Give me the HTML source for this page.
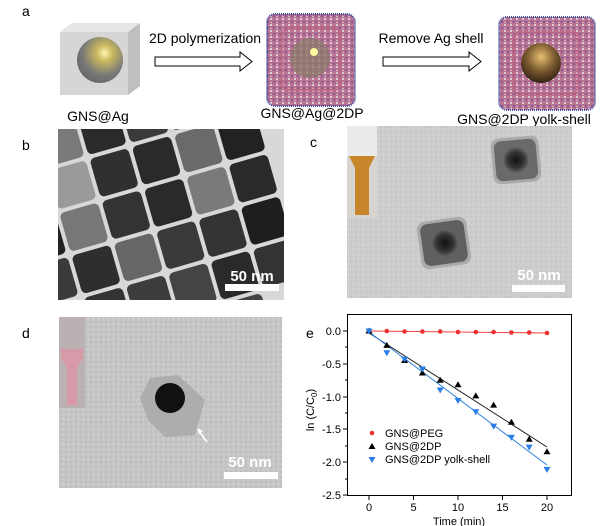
<!DOCTYPE html>
<html><head><meta charset="utf-8"><style>
html,body{margin:0;padding:0;background:#fff;}
svg{display:block;font-family:"Liberation Sans",Arial,sans-serif;}
</style></head><body>
<svg width="611" height="526" viewBox="0 0 611 526" xmlns="http://www.w3.org/2000/svg">
<defs>
<radialGradient id="gold" cx="0.6" cy="0.35" r="0.7"><stop offset="0" stop-color="#fff6b0"/><stop offset="0.25" stop-color="#c9b860"/><stop offset="0.7" stop-color="#777"/><stop offset="1" stop-color="#666"/></radialGradient>
<radialGradient id="gold2" cx="0.5" cy="0.35" r="0.7"><stop offset="0" stop-color="#e8c070"/><stop offset="0.5" stop-color="#7a5a30"/><stop offset="1" stop-color="#2a1a10"/></radialGradient>
<radialGradient id="core" cx="0.5" cy="0.5" r="0.5"><stop offset="0" stop-color="#111"/><stop offset="0.6" stop-color="#333"/><stop offset="1" stop-color="#666"/></radialGradient>
<pattern id="poly" width="6" height="6" patternUnits="userSpaceOnUse"><rect width="6" height="6" fill="#b87090"/><circle cx="1" cy="1" r="1" fill="#e8e8f0"/><circle cx="4" cy="4" r="0.9" fill="#5a4aa0"/><circle cx="4" cy="1" r="0.6" fill="#e090a0"/><circle cx="1" cy="4.5" r="0.6" fill="#f0f0f0"/></pattern>
<pattern id="noise" width="5" height="5" patternUnits="userSpaceOnUse"><rect width="5" height="5" fill="#c6c6c6"/><circle cx="1" cy="2" r="0.7" fill="#adadad"/><circle cx="3.5" cy="4" r="0.6" fill="#dadada"/></pattern>
<pattern id="noise2" width="5" height="5" patternUnits="userSpaceOnUse"><rect width="5" height="5" fill="#cdcdcd"/><circle cx="1" cy="2" r="0.6" fill="#b5b5b5"/><circle cx="3.5" cy="4" r="0.6" fill="#dddddd"/></pattern>
<clipPath id="cb"><rect x="58" y="129" width="226" height="171"/></clipPath>
</defs>

<!-- panel a -->
<text x="22" y="16" font-size="14">a</text>
<polygon points="60,32 72,23 140,23 140,86 128,95 60,95" fill="#d6d6d6"/>
<polygon points="128,32 140,23 140,86 128,95" fill="#bfbfbf"/>
<polygon points="60,32 72,23 140,23 128,32" fill="#e6e6e6"/>
<circle cx="100" cy="60" r="23" fill="url(#gold)"/>
<text x="98" y="121" font-size="14" text-anchor="middle">GNS@Ag</text>
<text x="205" y="43" font-size="14" text-anchor="middle">2D polymerization</text>
<polygon points="155,57 240,57 240,52 252,61.5 240,71 240,66 155,66" fill="#fff" stroke="#000" stroke-width="1"/>
<rect x="267" y="14" width="88" height="92" rx="8" fill="url(#poly)" stroke="#4050a0" stroke-width="2" stroke-dasharray="1 1"/>
<rect x="282" y="28" width="58" height="62" rx="6" fill="none" stroke="#c06080" stroke-width="3" opacity="0.6"/>
<circle cx="310" cy="58" r="20" fill="#8a7a6a" opacity="0.75"/>
<circle cx="314" cy="52" r="4" fill="#fff8a0"/>
<text x="312" y="118" font-size="14" text-anchor="middle">GNS@Ag@2DP</text>
<text x="431" y="43" font-size="14" text-anchor="middle">Remove Ag shell</text>
<polygon points="383,57 469,57 469,52 481,61.5 469,71 469,66 383,66" fill="#fff" stroke="#000" stroke-width="1"/>
<rect x="499" y="17" width="96" height="93" rx="8" fill="url(#poly)" stroke="#4050a0" stroke-width="2" stroke-dasharray="1 1"/>
<rect x="514" y="32" width="64" height="62" rx="6" fill="none" stroke="#c06080" stroke-width="3" opacity="0.6"/>
<circle cx="541" cy="63" r="20" fill="url(#gold2)"/>
<text x="524" y="124" font-size="14" text-anchor="middle">GNS@2DP yolk-shell</text>

<!-- panel b -->
<text x="22" y="150" font-size="14">b</text>
<rect x="58" y="129" width="226" height="171" fill="#d8d8d8"/>
<g clip-path="url(#cb)">
<g transform="rotate(-16 170 215)">
<rect x="20" y="95" width="40" height="40" rx="5" fill="#555"/>
<rect x="64" y="95" width="40" height="40" rx="5" fill="#7a7a7a"/>
<rect x="108" y="95" width="40" height="40" rx="5" fill="#2a2a2a"/>
<rect x="152" y="95" width="40" height="40" rx="5" fill="#3a3a3a"/>
<rect x="196" y="95" width="40" height="40" rx="5" fill="#2e2e2e"/>
<rect x="240" y="95" width="40" height="40" rx="5" fill="#444"/>
<rect x="20" y="139" width="40" height="40" rx="5" fill="#8a8a8a"/>
<rect x="64" y="139" width="40" height="40" rx="5" fill="#9a9a9a"/>
<rect x="108" y="139" width="40" height="40" rx="5" fill="#303030"/>
<rect x="152" y="139" width="40" height="40" rx="5" fill="#2a2a2a"/>
<rect x="196" y="139" width="40" height="40" rx="5" fill="#6a6a6a"/>
<rect x="240" y="139" width="40" height="40" rx="5" fill="#222"/>
<rect x="20" y="183" width="40" height="40" rx="5" fill="#222"/>
<rect x="64" y="183" width="40" height="40" rx="5" fill="#777"/>
<rect x="108" y="183" width="40" height="40" rx="5" fill="#333"/>
<rect x="152" y="183" width="40" height="40" rx="5" fill="#2a2a2a"/>
<rect x="196" y="183" width="40" height="40" rx="5" fill="#7a7a7a"/>
<rect x="240" y="183" width="40" height="40" rx="5" fill="#2a2a2a"/>
<rect x="20" y="227" width="40" height="40" rx="5" fill="#3a3a3a"/>
<rect x="64" y="227" width="40" height="40" rx="5" fill="#2e2e2e"/>
<rect x="108" y="227" width="40" height="40" rx="5" fill="#666"/>
<rect x="152" y="227" width="40" height="40" rx="5" fill="#3a3a3a"/>
<rect x="196" y="227" width="40" height="40" rx="5" fill="#333"/>
<rect x="240" y="227" width="40" height="40" rx="5" fill="#1e1e1e"/>
<rect x="20" y="271" width="40" height="40" rx="5" fill="#2a2a2a"/>
<rect x="64" y="271" width="40" height="40" rx="5" fill="#333"/>
<rect x="108" y="271" width="40" height="40" rx="5" fill="#3c3c3c"/>
<rect x="152" y="271" width="40" height="40" rx="5" fill="#444"/>
<rect x="196" y="271" width="40" height="40" rx="5" fill="#2a2a2a"/>
<rect x="240" y="271" width="40" height="40" rx="5" fill="#333"/>
<rect x="20" y="315" width="40" height="40" rx="5" fill="#333"/>
<rect x="64" y="315" width="40" height="40" rx="5" fill="#2a2a2a"/>
<rect x="108" y="315" width="40" height="40" rx="5" fill="#333"/>
<rect x="152" y="315" width="40" height="40" rx="5" fill="#2a2a2a"/>
<rect x="196" y="315" width="40" height="40" rx="5" fill="#444"/>
</g>
</g>
<text x="252" y="281" font-size="15" font-weight="bold" fill="#fff" text-anchor="middle">50 nm</text>
<rect x="225" y="284" width="54" height="7" fill="#fff"/>

<!-- panel c -->
<text x="310" y="147" font-size="14">c</text>
<rect x="347" y="126" width="225" height="172" fill="url(#noise2)"/>
<rect x="347" y="126" width="30" height="92" fill="#d8d4d0"/>
<rect x="347" y="126" width="30" height="30" fill="#ebebeb"/>
<polygon points="349,156 375,156 369,168 369,215 355,215 355,168" fill="#c8862a"/>
<g transform="rotate(-5 516 160)"><rect x="492" y="137" width="48" height="46" rx="8" fill="#aaa"/><rect x="495" y="140" width="42" height="40" rx="7" fill="#6a6a6a"/></g>
<circle cx="516" cy="160" r="13" fill="url(#core)"/>
<g transform="rotate(-8 444 243)"><rect x="419" y="219" width="50" height="48" rx="8" fill="#aaa"/><rect x="422" y="222" width="44" height="42" rx="7" fill="#606060"/></g>
<circle cx="445" cy="243" r="14" fill="url(#core)"/>
<text x="539" y="280" font-size="15" font-weight="bold" fill="#fff" text-anchor="middle">50 nm</text>
<rect x="512" y="285" width="53" height="7" fill="#fff"/>

<!-- panel d -->
<text x="22" y="338" font-size="14">d</text>
<rect x="59" y="317" width="223" height="171" fill="url(#noise)"/>
<rect x="59" y="317" width="26" height="91" fill="#bbb0b2"/>
<polygon points="61,349 83,349 83,358 77,368 77,405 67,405 67,368 61,358" fill="#d89aa8"/>
<polygon points="140,398 150,378 178,375 205,400 195,435 165,437 148,420" fill="#a8a8a8" opacity="0.85"/>
<circle cx="170" cy="398" r="15" fill="#111"/>
<line x1="207" y1="442" x2="199" y2="431" stroke="#fff" stroke-width="1.5"/>
<polygon points="197,428 203,431 199,434" fill="#fff"/>
<text x="250" y="467" font-size="15" font-weight="bold" fill="#fff" text-anchor="middle">50 nm</text>
<rect x="224" y="472" width="54" height="7" fill="#fff"/>

<!-- panel e -->
<text x="306" y="338" font-size="14">e</text>
<rect x="347.5" y="314.5" width="224" height="181" fill="none" stroke="#000" stroke-width="1"/>
<g stroke="#000" stroke-width="1">
<line x1="343" y1="331" x2="347" y2="331"/><line x1="343" y1="364" x2="347" y2="364"/>
<line x1="343" y1="397" x2="347" y2="397"/><line x1="343" y1="429" x2="347" y2="429"/>
<line x1="343" y1="462" x2="347" y2="462"/><line x1="343" y1="495" x2="347" y2="495"/>
<line x1="345" y1="347" x2="347" y2="347"/><line x1="345" y1="380" x2="347" y2="380"/>
<line x1="345" y1="413" x2="347" y2="413"/><line x1="345" y1="446" x2="347" y2="446"/><line x1="345" y1="479" x2="347" y2="479"/>
<line x1="369" y1="496" x2="369" y2="500"/><line x1="413.5" y1="496" x2="413.5" y2="500"/>
<line x1="458" y1="496" x2="458" y2="500"/><line x1="502.5" y1="496" x2="502.5" y2="500"/><line x1="547" y1="496" x2="547" y2="500"/>
</g>
<g font-size="11" text-anchor="end">
<text x="341" y="335">0.0</text><text x="341" y="368">-0.5</text><text x="341" y="401">-1.0</text>
<text x="341" y="433">-1.5</text><text x="341" y="466">-2.0</text><text x="341" y="499">-2.5</text>
</g>
<g font-size="11" text-anchor="middle">
<text x="369" y="511">0</text><text x="413.5" y="511">5</text><text x="458" y="511">10</text><text x="502.5" y="511">15</text><text x="547" y="511">20</text>
<text x="459" y="525">Time (min)</text>
</g>
<text transform="translate(314 410) rotate(-90)" font-size="11" text-anchor="middle">ln (C/C<tspan font-size="8" dy="3">0</tspan><tspan dy="-3">)</tspan></text>
<line x1="369" y1="331" x2="547" y2="333" stroke="#f04040" stroke-width="1"/>
<line x1="369" y1="333" x2="547" y2="447" stroke="#222" stroke-width="1"/>
<line x1="369" y1="332" x2="547" y2="465" stroke="#3080e0" stroke-width="1"/>
<g fill="#f03030">
<circle cx="369" cy="331" r="2.3"/><circle cx="386.8" cy="331" r="2.3"/><circle cx="404.6" cy="331.5" r="2.3"/><circle cx="422.4" cy="331.5" r="2.3"/><circle cx="440.2" cy="331.5" r="2.3"/><circle cx="458" cy="332" r="2.3"/><circle cx="475.8" cy="332" r="2.3"/><circle cx="493.6" cy="332" r="2.3"/><circle cx="511.4" cy="332.5" r="2.3"/><circle cx="529.2" cy="332.5" r="2.3"/><circle cx="547" cy="333" r="2.3"/>
</g>
<g fill="#000">
<path d="M369 327.5l3.5 6h-7z"/><path d="M386.8 341.9l3.5 6h-7z"/><path d="M404.6 357l3.5 6h-7z"/><path d="M422.4 369.5l3.5 6h-7z"/><path d="M440.2 376.7l3.5 6h-7z"/><path d="M458 381.3l3.5 6h-7z"/><path d="M475.8 392.4l3.5 6h-7z"/><path d="M493.6 401.6l3.5 6h-7z"/><path d="M511.4 418.7l3.5 6h-7z"/><path d="M529.2 435.7l3.5 6h-7z"/><path d="M547 448.2l3.5 6h-7z"/>
</g>
<g fill="#2a7ce8">
<path d="M369 334.5l3.5 -6h-7z"/><path d="M386.8 356.2l3.5 -6h-7z"/><path d="M404.6 362.7l3.5 -6h-7z"/><path d="M422.4 372.5l3.5 -6h-7z"/><path d="M440.2 393.5l3.5 -6h-7z"/><path d="M458 404l3.5 -6h-7z"/><path d="M475.8 415.2l3.5 -6h-7z"/><path d="M493.6 429.6l3.5 -6h-7z"/><path d="M511.4 440.8l3.5 -6h-7z"/><path d="M529.2 450.6l3.5 -6h-7z"/><path d="M547 472.9l3.5 -6h-7z"/>
</g>
<circle cx="372" cy="433" r="2.3" fill="#f03030"/>
<path d="M372 443l3.5 6h-7z" fill="#000"/>
<path d="M372 463l3.5 -6h-7z" fill="#2a7ce8"/>
<g font-size="11"><text x="385" y="437">GNS@PEG</text><text x="385" y="450">GNS@2DP</text><text x="385" y="463">GNS@2DP yolk-shell</text></g>
</svg>
</body></html>
